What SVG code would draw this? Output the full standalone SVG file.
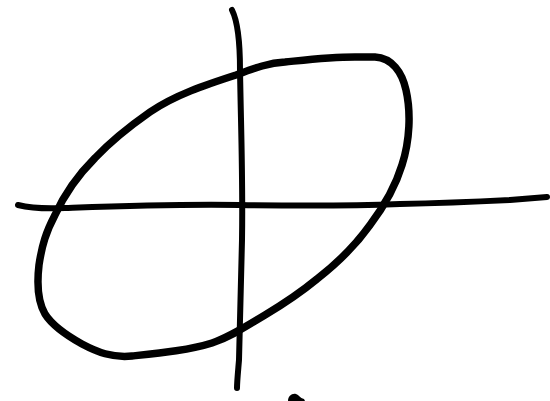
<svg xmlns="http://www.w3.org/2000/svg" width="550" height="401" viewBox="0 0 550 401">
<style>
.s{fill:none;stroke:#000;stroke-linecap:round;stroke-linejoin:round}
</style>
<rect width="550" height="401" fill="#fff"/>
<g id="ellipse">
<path class="s" stroke-width="7.5" d="M236,75 C255,68 268,63 285,62 C305,60 330,57 355,57 L375,57 C392,58 402,72 406,90 C411,112 410,140 402,165 C395,188 385,205 370,225 C355,246 335,265 317,279 C300,293 285,303 265,315 C245,327 230,337 212,343 C190,350 160,353 132,356 C112,358 97,352 82,344 C64,334 52,325 45,314 C37,300 37,282 39,265 C42,245 46,232 55,215 C65,193 78,175 95,158 C112,140 130,126 150,112 C175,95 205,85 236,75 Z"/>
</g>
<g id="connectors">
<path class="s" stroke-width="6" d="M232,10 C238,22 240,40 240,70 C241,130 243,180 242,240 C241,290 240,330 239,360 C238,372 237,382 237,388"/>
<path class="s" stroke-width="6" d="M18,205 C30,208 45,209 65,208 C120,206 170,204 240,205 C300,206 350,206 400,204 C450,203 490,201 510,200 L547,197"/>
<path d="M288,401 C288,396 292,393 296,394 C299,395 300,398 304,399 L305,401 Z" fill="#000"/>
</g>
</svg>
